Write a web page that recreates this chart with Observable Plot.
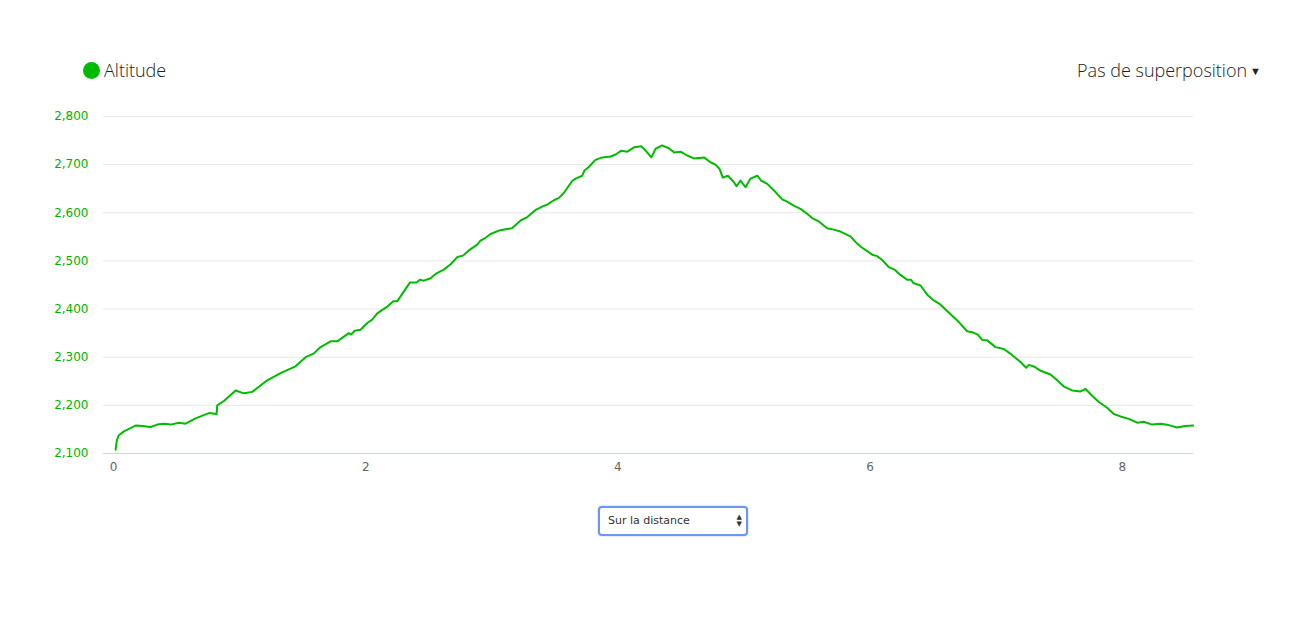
<!DOCTYPE html>
<html>
<head>
<meta charset="utf-8">
<script src="https://cdn.jsdelivr.net/npm/d3@7"></script>
<script src="https://cdn.jsdelivr.net/npm/@observablehq/plot@0.6"></script>
<style>
  html, body { margin: 0; padding: 0; background: #fff; }
  body { width: 1301px; height: 633px; position: relative; overflow: hidden; font-family: "Open Sans", sans-serif; }
  #chart { position: absolute; left: 0; top: 0; }
  .legend { position: absolute; left: 83px; top: 58px; display: flex; align-items: center; font-size: 18px; color: #222; font-weight: 300; }
  .legend .dot { width: 17px; height: 17px; border-radius: 50%; background: #00bb00; margin-right: 4px; }
  .overlay { position: absolute; right: 40px; top: 58px; font-size: 18px; color: #222; font-weight: 300; }
  .overlay .caret { font-size: 11px; margin-left: 3px; vertical-align: 2px; }
  .select { position: absolute; left: 598px; top: 506px; width: 138px; height: 26px; border: 2px solid #6e95f6; border-radius: 4px; box-shadow: 0 0 2px #9ab8fb; background: #fff; font-family: "DejaVu Sans", sans-serif; font-size: 11px; color: #333; line-height: 26px; padding-left: 8px; box-sizing: content-box; }
  .select .arrows { position: absolute; right: 4px; top: 6px; font-size: 7px; line-height: 7px; color: #333; text-align: center; }
</style>
</head>
<body>
<div id="chart"></div>
<div class="legend"><span class="dot"></span><span>Altitude</span></div>
<div class="overlay">Pas de superposition<span class="caret">▼</span></div>
<div class="select">Sur la distance<span class="arrows">▲<br>▼</span></div>
<script>
const dist = [0.016,0.026,0.042,0.082,0.174,0.228,0.293,0.347,0.399,0.452,0.518,0.571,0.650,0.756,0.817,0.822,0.875,0.968,1.033,1.100,1.219,1.324,1.443,1.523,1.589,1.642,1.721,1.774,1.866,1.885,1.911,1.959,2.012,2.051,2.091,2.170,2.218,2.249,2.350,2.403,2.429,2.461,2.514,2.554,2.619,2.673,2.726,2.772,2.818,2.884,2.910,2.950,2.990,3.056,3.110,3.160,3.228,3.281,3.347,3.400,3.439,3.492,3.532,3.571,3.637,3.664,3.717,3.735,3.769,3.822,3.875,3.942,3.982,4.027,4.075,4.128,4.186,4.220,4.265,4.299,4.351,4.403,4.449,4.497,4.550,4.602,4.682,4.734,4.774,4.806,4.832,4.872,4.919,4.941,4.972,5.012,5.052,5.105,5.136,5.184,5.250,5.303,5.342,5.395,5.448,5.501,5.540,5.593,5.660,5.712,5.765,5.844,5.897,5.929,6.017,6.056,6.096,6.148,6.193,6.241,6.294,6.325,6.342,6.400,6.453,6.505,6.550,6.611,6.664,6.704,6.770,6.810,6.854,6.889,6.929,6.995,7.061,7.114,7.193,7.238,7.259,7.298,7.351,7.431,7.484,7.537,7.603,7.669,7.709,7.761,7.814,7.880,7.933,7.986,8.052,8.118,8.171,8.237,8.303,8.369,8.435,8.501,8.562];
const altitude = [2108,2128,2138,2146,2158,2157,2155,2160,2162,2160,2164,2162,2173,2184,2182,2200,2209,2231,2225,2228,2252,2267,2281,2300,2308,2321,2333,2333,2350,2347,2355,2357,2371,2378,2391,2405,2416,2416,2455,2455,2461,2459,2464,2473,2482,2493,2508,2511,2522,2534,2542,2548,2556,2563,2566,2568,2584,2591,2606,2613,2617,2626,2631,2641,2666,2671,2677,2688,2695,2710,2715,2717,2721,2729,2727,2736,2738,2729,2715,2733,2740,2734,2725,2727,2719,2713,2715,2705,2700,2691,2673,2677,2664,2655,2667,2653,2671,2677,2667,2660,2643,2628,2623,2615,2608,2598,2589,2582,2568,2565,2561,2551,2536,2529,2513,2510,2502,2487,2482,2471,2461,2461,2454,2449,2430,2418,2411,2396,2383,2373,2354,2352,2347,2336,2335,2321,2317,2307,2290,2278,2284,2281,2272,2264,2252,2239,2231,2229,2234,2220,2207,2195,2182,2177,2172,2164,2166,2160,2162,2159,2154,2157,2158];
const xTicks = [0, 2, 4, 6, 8];
const yTicks = [2100, 2200, 2300, 2400, 2500, 2600, 2700, 2800];
const gridTicks = [2200, 2300, 2400, 2500, 2600, 2700, 2800];

const data = dist.map((d, i) => ({dist: d, alt: altitude[i]}));

const chart = Plot.plot({
  width: 1301,
  height: 480,
  marginTop: 116,
  marginBottom: 27,
  marginLeft: 103,
  marginRight: 108,
  style: {fontFamily: "DejaVu Sans, sans-serif", fontSize: "12px", background: "#fff"},
  x: {domain: [-0.08, 8.565]},
  y: {domain: [2100, 2800]},
  marks: [
    Plot.ruleY(gridTicks, {stroke: "#e6e6e6", strokeWidth: 1}),
    Plot.ruleY([2100], {stroke: "#ccd6eb", strokeWidth: 1}),
    Plot.axisX({ticks: xTicks, tickSize: 0, tickPadding: 9, label: null, tickFormat: d3.format("d"), fill: "#666", fontSize: 12}),
    Plot.axisY({ticks: yTicks, tickSize: 0, tickPadding: 15, label: null, tickFormat: d3.format(","), fill: "#00b300", fontSize: 12}),
    Plot.line(data, {x: "dist", y: "alt", stroke: "#00bb00", strokeWidth: 2, curve: "linear"})
  ]
});
document.getElementById("chart").appendChild(chart);
</script>
</body>
</html>
